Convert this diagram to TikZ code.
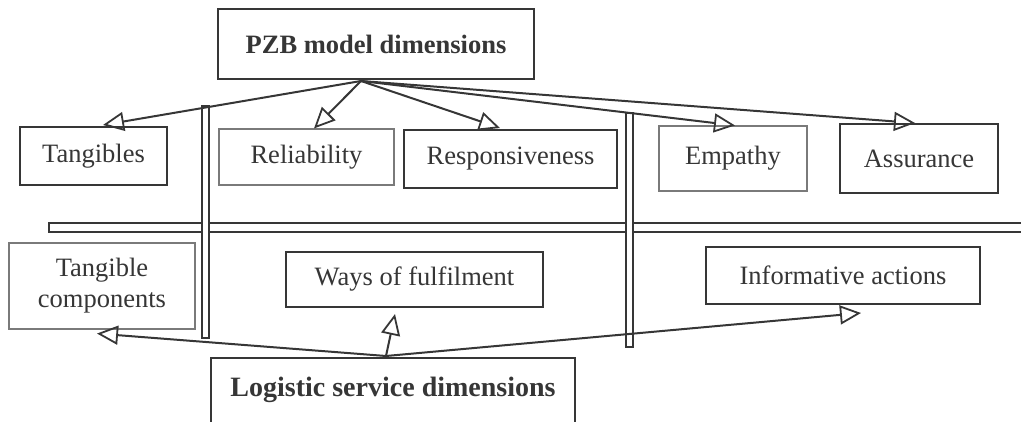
\documentclass[tikz,border=0pt]{standalone}
\usepackage{fontspec}
\setmainfont{Liberation Serif}
\usetikzlibrary{arrows.meta,calc}
\definecolor{ink}{HTML}{363636}
\definecolor{thin}{HTML}{7A7A7A}
\tikzset{
  box/.style={draw=ink, line width=2pt, fill=white, inner sep=0pt, text=ink, font=\fontsize{26.5}{31}\selectfont, align=center},
  tbox/.style={box, draw=thin, line width=1.1pt},
  bar/.style={draw=ink, line width=1.6pt, fill=white},
  arr/.style={draw=ink, line width=2pt, -{Triangle[open, length=21pt, width=19pt, line width=1.8pt]}}
}
\begin{document}
\begin{tikzpicture}[x=1pt,y=-1pt]
\useasboundingbox (0,0) rectangle (1021,422);
\clip (0,0) rectangle (1021,422);
% horizontal bar
\draw[bar] (49,223) rectangle (1030,232);
% vertical bars
\draw[bar] (202,106) rectangle (209,338);
\draw[bar] (626,113) rectangle (633,347);
% top boxes
\node[box, minimum width=316pt, minimum height=70pt, font=\fontsize{26.5}{30}\selectfont\bfseries] (pzb) at (376,44) {PZB model dimensions};
\node[box, minimum width=147pt, minimum height=58pt] (tang) at (93.5,156) {Tangibles};
\node[tbox, minimum width=175pt, minimum height=56pt] (rel) at (306.5,157) {Reliability};
\node[box, minimum width=213pt, minimum height=58pt] (resp) at (510.5,159) {Responsiveness};
\node[tbox, minimum width=148pt, minimum height=65pt] (emp) at (733,158.5) {Empathy};
\node[box, minimum width=158pt, minimum height=69pt] (ass) at (919,158.5) {Assurance};
% bottom boxes
\node[tbox, minimum width=186pt, minimum height=86pt] (tc) at (102,286) {Tangible\\components};
\node[box, minimum width=257pt, minimum height=55pt] (way) at (414.5,279.5) {Ways of fulfilment};
\node[box, minimum width=274pt, minimum height=57pt] (inf) at (843,275.5) {Informative actions};
\node[box, minimum width=364pt, minimum height=80pt, font=\fontsize{28}{32}\selectfont\bfseries, anchor=north] (log) at (393,357) {\raisebox{22pt}{Logistic service dimensions}};
% arrows
\coordinate (po) at ($(pzb.south)+(-15,1)$);
\coordinate (lo) at ($(log.north)+(-7,-1)$);
\draw[arr] (po) -- ($(tang.north)+(9.5,-1)$);
\draw[arr] (po) -- ($(rel.north)+(7.5,0)$);
\draw[arr] (po) -- ($(resp.north)+(-10.5,-1)$);
\draw[arr] (po) -- ($(emp.north)+(2,0)$);
\draw[arr] (po) -- ($(ass.north)+(-4,0)$);
\draw[arr] (lo) -- ($(tc.south)+(-5,4)$);
\draw[arr] (lo) -- ($(way.south)+(-19.5,6)$);
\draw[arr] (lo) -- ($(inf.south)+(18,8)$);
\end{tikzpicture}
\end{document}
